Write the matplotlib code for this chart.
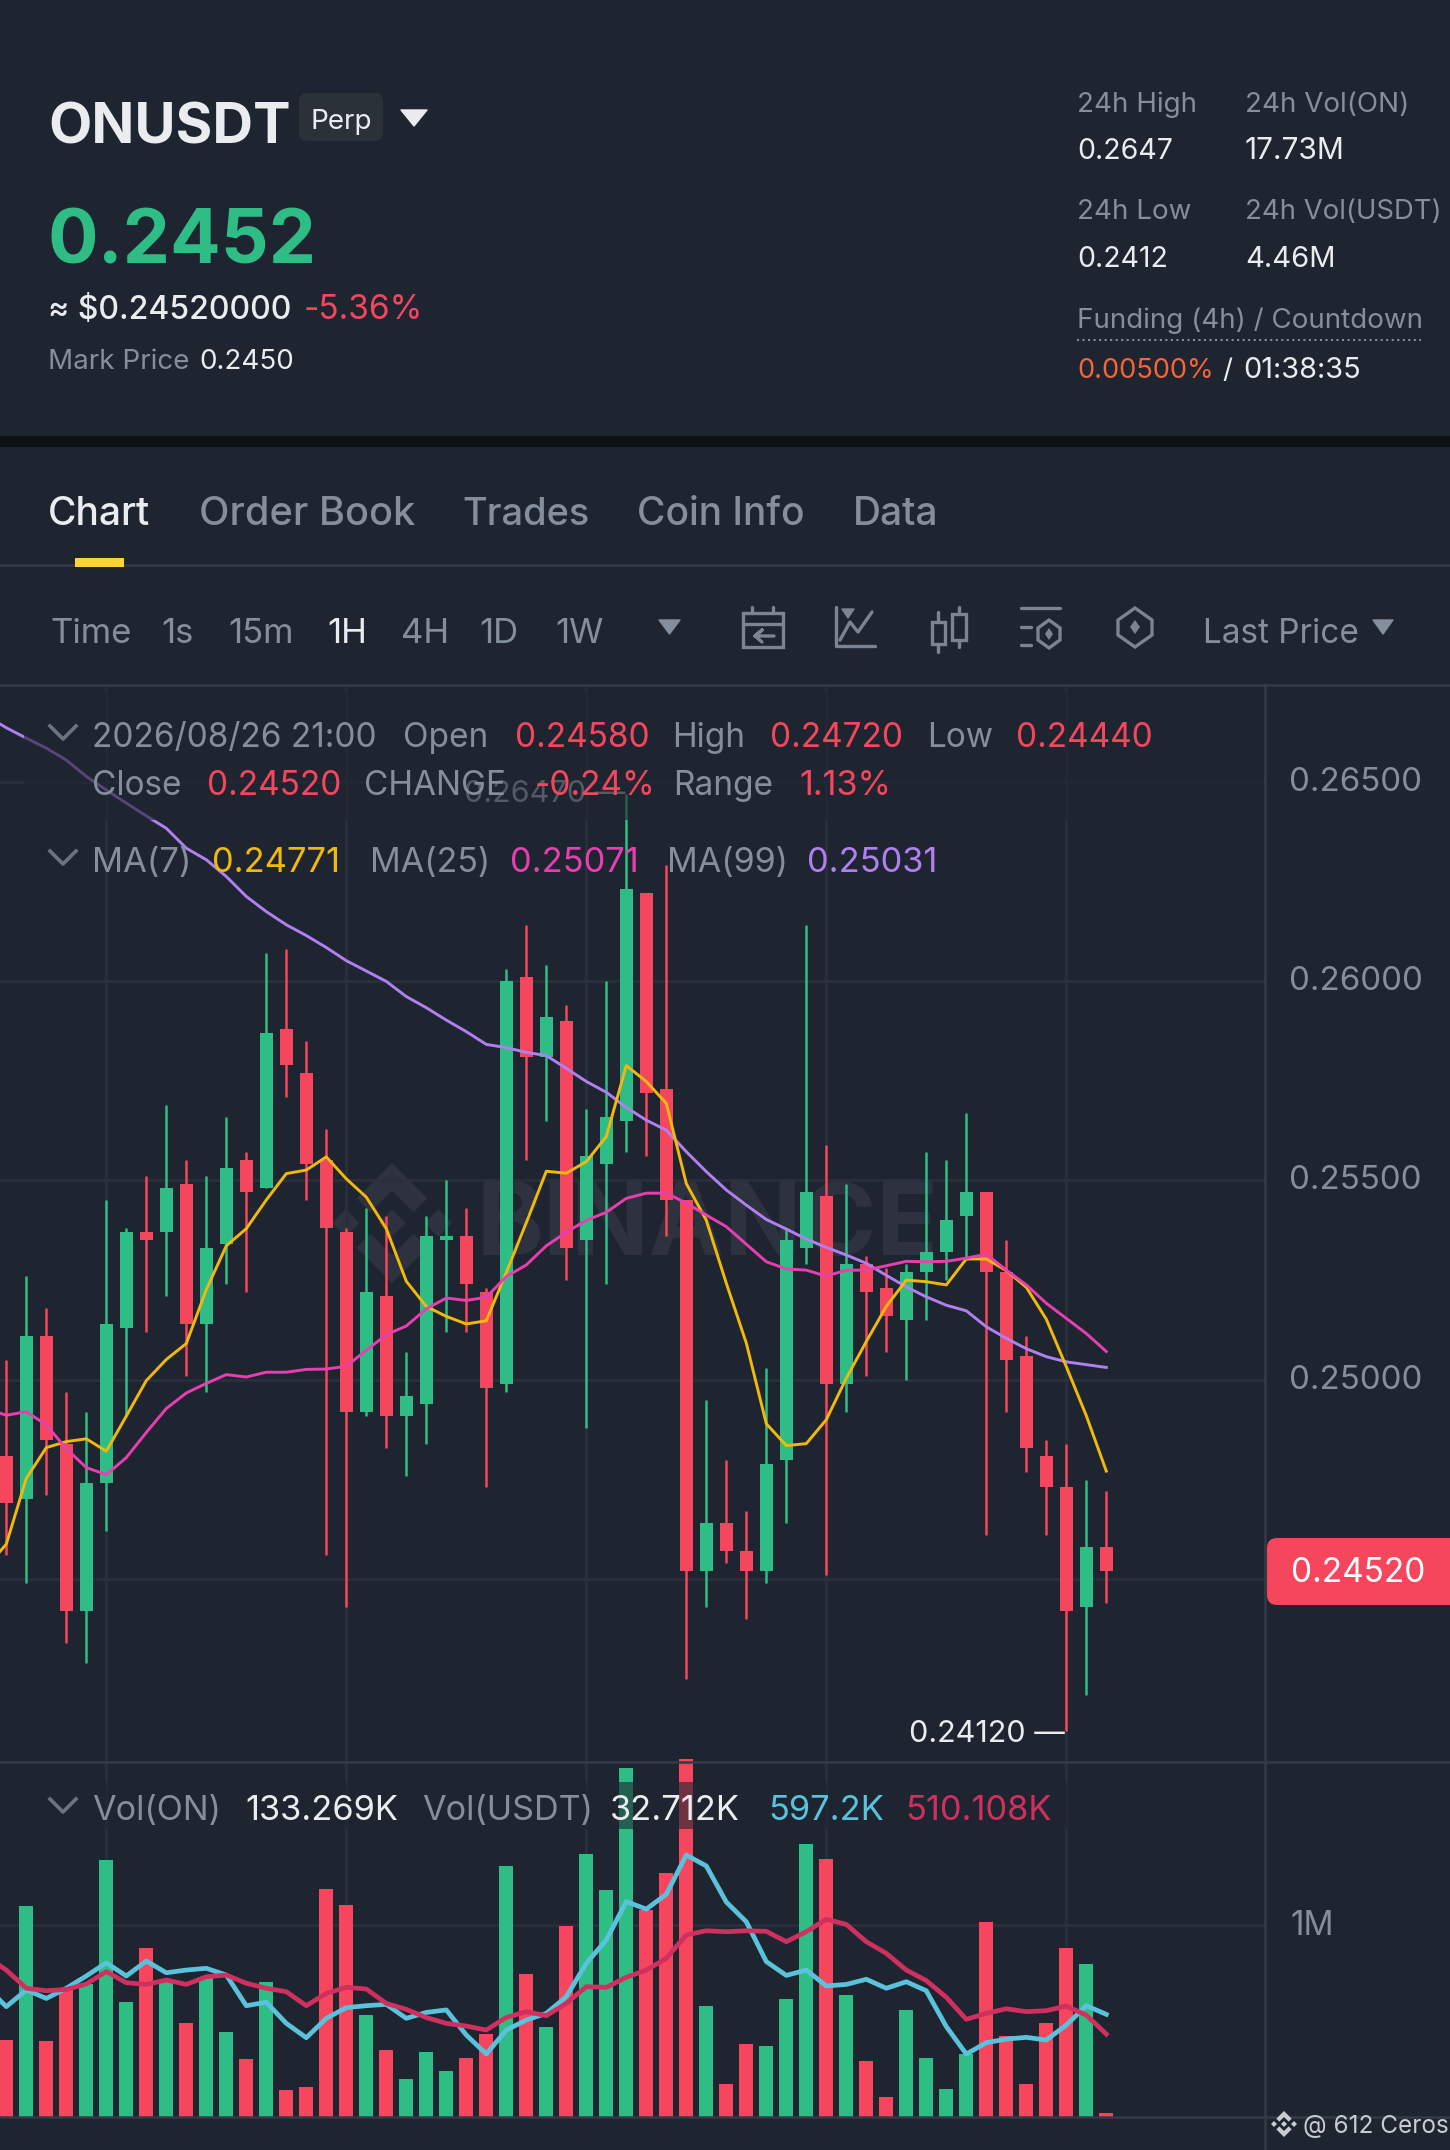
import numpy as np
import matplotlib
matplotlib.use('Agg')
import matplotlib.pyplot as plt
from matplotlib.patches import Rectangle, FancyBboxPatch, Polygon
from matplotlib.transforms import ScaledTranslation

plt.rcParams['font.family'] = ['Inter', 'DejaVu Sans']

# candles, 1H
opens = [.2481, .2470, .2511, .2484, .2442, .2474, .2513, .2537, .2537, .2549, .2514, .2534, .2555, .2548,
         .2588, .2577, .2555, .2537, .2492, .2521, .2491, .2494, .2535, .2536, .2522, .2499, .2601, .2581,
         .2590, .2535, .2554, .2565, .2622, .2573, .2545, .2452, .2464, .2457, .2452, .2480, .2533, .2546,
         .2499, .2529, .2523, .2515, .2527, .2532, .2541, .2547, .2527, .2506, .2481, .2473, .2443, .2458]
highs = [.2505, .2526, .2518, .2497, .2492, .2545, .2538, .2551, .2569, .2555, .2551, .2566, .2557, .2607,
         .2608, .2585, .2563, .2538, .2543, .2541, .2507, .2541, .2550, .2543, .2523, .2603, .2614, .2604,
         .2594, .2568, .2600, .2647, .2622, .2629, .2545, .2495, .2480, .2467, .2503, .2538, .2614, .2559,
         .2549, .2531, .2528, .2529, .2557, .2555, .2567, .2547, .2535, .2511, .2485, .2484, .2475, .2472]
lows = [.2456, .2449, .2471, .2434, .2429, .2462, .2491, .2512, .2521, .2501, .2497, .2524, .2522, .2548,
        .2571, .2545, .2456, .2443, .2491, .2483, .2476, .2484, .2512, .2512, .2473, .2497, .2555, .2565,
        .2525, .2488, .2524, .2557, .2556, .2536, .2425, .2443, .2454, .2440, .2449, .2464, .2529, .2451,
        .2492, .2501, .2507, .2500, .2515, .2525, .2530, .2461, .2492, .2477, .2461, .2412, .2421, .2444]
closes = [.2469, .2511, .2485, .2442, .2474, .2514, .2537, .2535, .2548, .2514, .2533, .2553, .2547, .2587,
          .2579, .2554, .2538, .2492, .2522, .2491, .2496, .2536, .2536, .2524, .2498, .2600, .2581, .2591,
          .2533, .2556, .2566, .2623, .2572, .2545, .2452, .2464, .2457, .2452, .2479, .2535, .2547, .2499,
          .2529, .2522, .2516, .2527, .2532, .2540, .2547, .2527, .2505, .2483, .2473, .2442, .2458, .2452]

# moving averages start one candle left of the visible range
ma7 = [.24530, .24588, .24753, .24830, .24845, .24852, .24821, .24909, .24998, .25051, .25091, .25226, .25336, .25379,
       .25451, .25517, .25526, .25559, .25504, .25458, .25379, .25247, .25184, .25159, .25140, .25148, .25269, .25394,
       .25523, .25518, .25547, .25610, .25788, .25748, .25693, .25492, .25400, .25242, .25092, .24890, .24835, .24840,
       .24900, .25004, .25096, .25184, .25250, .25246, .25238, .25303, .25303, .25274, .25232, .25152, .25033, .24910, .24771]
ma25 = [.24928, .24911, .24920, .24887, .24827, .24780, .24762, .24805, .24868, .24928, .24967, .24991, .25013, .25007,
        .25019, .25019, .25026, .25027, .25034, .25074, .25113, .25135, .25178, .25205, .25199, .25207, .25259, .25288,
        .25336, .25370, .25400, .25420, .25455, .25468, .25468, .25443, .25413, .25384, .25340, .25296, .25278, .25275,
        .25260, .25275, .25275, .25286, .25297, .25296, .25297, .25305, .25315, .25275, .25238, .25192, .25154, .25116, .25071]
ma99 = [.26665, .26635, .26609, .26584, .26554, .26513, .26479, .26446, .26414, .26383, .26333, .26304, .26262, .26212,
        .26174, .26141, .26114, .26084, .26051, .26025, .25999, .25961, .25933, .25902, .25873, .25841, .25833, .25821,
        .25813, .25781, .25748, .25721, .25683, .25651, .25626, .25572, .25522, .25476, .25438, .25402, .25378, .25353,
        .25332, .25313, .25292, .25262, .25233, .25208, .25187, .25173, .25133, .25104, .25078, .25058, .25045, .25038, .25031]

# volume in millions
volumes = [.400, 1.097, .395, .661, .690, 1.339, .597, .882, .704, .490, .722, .440, .301, .704,
           .139, .155, 1.188, 1.103, .530, .346, .197, .336, .238, .304, .431, 1.308, .743, .470,
           .993, 1.369, 1.184, 1.817, 1.078, 1.270, 1.866, .579, .169, .379, .369, .612, 1.423, 1.344,
           .633, .289, .104, .557, .304, .143, .325, 1.014, .421, .170, .487, .882, .797, .017]
vol_ma_a = [.678, .574, .661, .617, .670, .734, .803, .734, .812, .751, .765, .774, .739, .579,
            .597, .487, .412, .513, .569, .579, .586, .513, .544, .557, .426, .327, .452, .504,
            .539, .626, .800, .922, 1.122, 1.083, 1.160, 1.365, 1.308, 1.120, 1.017, .809, .737, .765,
            .682, .690, .717, .670, .704, .657, .470, .327, .386, .405, .414, .400, .478, .579, .534]
vol_ma_b = [.835, .765, .670, .657, .664, .692, .757, .699, .690, .713, .690, .730, .739, .696,
            .670, .652, .579, .643, .675, .666, .591, .560, .517, .487, .473, .452, .518, .548,
            .527, .591, .678, .675, .727, .765, .826, .948, .970, .965, .970, .967, .913, .965,
            1.030, 1.003, .913, .852, .765, .710, .623, .508, .539, .563, .548, .553, .577, .530, .431]

price_ticks = [0.265, 0.26, 0.255, 0.25, 0.245]
grid_candles = [5, 17, 29, 41, 53]

BG = '#1e2530'
GREEN = '#2ebd85'
RED = '#f6465d'
GRAY = '#848e9c'
WHITE = '#eaecef'
GRID = '#2a303b'
SEP = '#343b47'

W, H = 1450, 2150
fig = plt.figure(figsize=(W / 100, H / 100), dpi=100, facecolor=BG)


def px_axes(x0, y0, x1, y1, z):
    a = fig.add_axes([x0 / W, 1 - y1 / H, (x1 - x0) / W, (y1 - y0) / H], zorder=z)
    a.patch.set_alpha(0)
    return a


def raise_labels(a, px):
    # axis labels sit a little above their grid line
    for lab in a.get_yticklabels():
        lab.set_transform(lab.get_transform() + ScaledTranslation(0, px / 100, fig.dpi_scale_trans))


# background layer: watermark sits under the candles
bg = px_axes(0, 0, W, H, 0)
bg.set_xlim(0, W)
bg.set_ylim(H, 0)
bg.axis('off')


def binance_logo(a, cx, cy, r, color, z=1):
    top = [(0, -1), (.59, -.41), (.36, -.18), (0, -.54), (-.36, -.18), (-.59, -.41)]
    shapes = [top, [(x, -y) for x, y in top]]
    for dx in (-.77, 0, .77):
        shapes.append([(dx, -.23), (dx + .23, 0), (dx, .23), (dx - .23, 0)])
    for s in shapes:
        a.add_patch(Polygon([(cx + x * r, cy + y * r) for x, y in s], fc=color, ec='none', zorder=z))


binance_logo(bg, 392, 1223, 60, '#2d323e')
bg.text(476, 1255, 'BINANCE', fontsize=73, fontweight='bold', color='#2d323e', va='baseline')

# candles
left, right = 0, 1265
x0_px, step_px = 6.3, 20
px_per_price = 199.4 / 0.005
top_px, mid_px = 687, 1762
ax = px_axes(left, top_px, right, mid_px, 1)
ax.set_xlim(-x0_px / step_px, (right - x0_px) / step_px)
ax.set_ylim(0.26 - (mid_px - 981) / px_per_price, 0.26 + (981 - top_px) / px_per_price)

opens_a, closes_a = np.array(opens), np.array(closes)
xs = np.arange(len(opens))
cols = [GREEN if c >= o else RED for o, c in zip(opens, closes)]
ax.vlines(xs, lows, highs, colors=cols, lw=1.8, zorder=3)
ax.bar(xs, np.abs(closes_a - opens_a), bottom=np.minimum(opens_a, closes_a), width=0.67, color=cols, zorder=3)

xs_ma = np.arange(-1, len(opens))
ax.plot(xs_ma, ma99, color='#b07ff0', lw=2.1, zorder=4, solid_joinstyle='round')
ax.plot(xs_ma, ma7, color='#f0b90b', lw=2.1, zorder=5, solid_joinstyle='round')
ax.plot(xs_ma, ma25, color='#e83fb0', lw=2.1, zorder=6, solid_joinstyle='round')

ax.set_yticks(price_ticks)
ax.set_yticklabels(['%.5f' % p for p in price_ticks])
ax.set_xticks(grid_candles)
ax.tick_params(axis='x', length=0, labelbottom=False)
ax.yaxis.tick_right()
ax.tick_params(axis='y', length=0, pad=17, labelsize=23.8, labelcolor=GRAY)
ax.grid(True, color=GRID, lw=2)
ax.set_axisbelow(True)
for s in ax.spines.values():
    s.set_visible(False)
raise_labels(ax, 3)

# high and low markers
i_hi, i_lo = int(np.argmax(highs)), int(np.argmin(lows))
ax.annotate('%.5f' % highs[i_hi] + ' \u2014', (i_hi, highs[i_hi]), xytext=(-1, 0), textcoords='offset points',
            ha='right', va='center', fontsize=22, color='#a9b0bc', zorder=7)
ax.annotate('%.5f' % lows[i_lo] + ' \u2014', (i_lo, lows[i_lo]), xytext=(-1, -2), textcoords='offset points',
            ha='right', va='center', fontsize=22, color=WHITE, zorder=7)

# volume
bot_px = 2116.7
vol_top_px = 1755
px_per_m = 191.7
vx = px_axes(left, vol_top_px, right, bot_px, 1)
vx.set_xlim(ax.get_xlim())
vx.set_ylim(0, (bot_px - vol_top_px) / px_per_m)
vx.bar(xs, volumes, width=0.7, color=cols, zorder=3)
vx.plot(xs_ma, vol_ma_a, color='#5bc2dc', lw=3.4, zorder=4)
vx.plot(xs_ma, vol_ma_b, color='#d0305f', lw=3.4, zorder=5)
vx.set_yticks([1])
vx.set_yticklabels(['1M'])
vx.set_xticks(grid_candles)
vx.tick_params(axis='x', length=0, labelbottom=False)
vx.yaxis.tick_right()
vx.tick_params(axis='y', length=0, pad=18, labelsize=24, labelcolor=GRAY)
vx.grid(True, color=GRID, lw=2)
vx.set_axisbelow(True)
for s in vx.spines.values():
    s.set_visible(False)
raise_labels(vx, 2)

# ui layer in pixels
ui = px_axes(0, 0, W, H, 2)
ui.set_xlim(0, W)
ui.set_ylim(H, 0)
ui.axis('off')


def txt(x, y, s, size, color, **kw):
    ui.text(x, y, s, fontsize=size, color=color, va='baseline', zorder=10, **kw)


def tri(x0, x1, y0, y1, color):
    ui.add_patch(Polygon([(x0, y0), (x1, y0), ((x0 + x1) / 2, y1)], fc=color, ec=color, lw=1, joinstyle='round', zorder=10))


def chevron(y):
    ui.plot([50, 63, 76], [y, y + 13, y], color='#6b7480', lw=2.6, zorder=10)


# legend boxes dim what is under them
ui.add_patch(Rectangle((24, 690), 1241, 130, fc=BG, ec='none', alpha=.62, zorder=1))
ui.add_patch(Rectangle((24, 1782), 1241, 47, fc=BG, ec='none', alpha=.62, zorder=1))

# frame lines
ui.add_patch(Rectangle((0, 436), W, 11, fc='#0e1116', ec='none', zorder=2))
ui.plot([0, W], [565, 565], color=SEP, lw=1.8, zorder=2)
ui.plot([0, W], [685, 685], color=SEP, lw=1.8, zorder=2)
ui.plot([0, W], [1762, 1762], color=SEP, lw=1.8, zorder=2)
ui.plot([0, W], [2117, 2117], color=SEP, lw=1.8, zorder=2)
ui.plot([1265, 1265], [685, H], color=SEP, lw=1.8, zorder=2)
ui.add_patch(Rectangle((75, 558), 49, 9, fc='#fcd535', ec='none', zorder=3))

# header
txt(48, 144, 'ONUSDT', 40.5, WHITE, fontweight='bold')
ui.add_patch(FancyBboxPatch((299, 93), 84, 48, boxstyle='round,pad=0,rounding_size=8', fc='#2b3139', ec='none', zorder=3))
txt(341, 129, 'Perp', 20, WHITE, ha='center')
tri(401, 427, 110, 126, WHITE)
txt(48, 263, '0.2452', 54, GREEN, fontweight='bold')
txt(48, 319, '\u2248 $0.24520000', 23, WHITE, fontweight='medium')
txt(304, 319, '-5.36%', 24, RED)
txt(48, 369, 'Mark Price', 20, GRAY)
txt(199, 369, '0.2450', 20, WHITE)

txt(1077, 112, '24h High', 20, GRAY)
txt(1245, 112, '24h Vol(ON)', 20, GRAY)
txt(1077, 159, '0.2647', 20.5, WHITE)
txt(1245, 159, '17.73M', 21.5, WHITE)
txt(1077, 219, '24h Low', 20, GRAY)
txt(1245, 219, '24h Vol(USDT)', 19.8, GRAY)
txt(1077, 267, '0.2412', 20.5, WHITE)
txt(1245, 267, '4.46M', 21, WHITE)
txt(1077, 328, 'Funding (4h) / Countdown', 20, GRAY)
ui.plot([1077, 1421], [340, 340], color=GRAY, lw=1.5, ls=':', zorder=5)
txt(1077, 378, '0.00500%', 19.6, '#f6653a')
txt(1222, 378, '/', 20, WHITE)
txt(1243, 378, '01:38:35', 20.8, WHITE)

# tabs
txt(48, 525, 'Chart', 28, WHITE, fontweight='medium')
for x, s, sz in [(199, 'Order Book', 28.6), (462, 'Trades', 27.4), (637, 'Coin Info', 28), (853, 'Data', 28)]:
    txt(x, 525, s, sz, GRAY, fontweight='medium')

# toolbar
for x, s, c in [(50, 'Time', GRAY), (161, '1s', GRAY), (228, '15m', GRAY), (327, '1H', WHITE),
                (401, '4H', GRAY), (479, '1D', GRAY), (555, '1W', GRAY), (1203, 'Last Price', GRAY)]:
    txt(x, 643, s, 25 if s != 'Last Price' else 24, c)
tri(659, 680, 620, 634, GRAY)
tri(1373, 1393, 620, 634, GRAY)

ic = dict(color='#7b8492', lw=2.4, zorder=10, solid_capstyle='round', solid_joinstyle='round')
# calendar
ui.add_patch(Rectangle((743, 613), 40, 34, fc='none', ec='#7b8492', lw=2.4, zorder=10))
ui.plot([743, 783], [624, 624], **ic)
ui.plot([752, 752], [607, 613], **ic)
ui.plot([773, 773], [607, 613], **ic)
ui.plot([774, 755, 762, 755, 762], [636, 636, 630, 636, 642], **ic)
# line chart
ui.plot([836, 836, 875], [607, 646, 646], **ic)
ui.plot([840, 850, 858, 872], [640, 622, 632, 612], **ic)
tri(842, 854, 609, 618, '#7b8492')
# candles
ui.add_patch(Rectangle((932, 622), 13, 22, fc='none', ec='#7b8492', lw=2.4, zorder=10))
ui.add_patch(Rectangle((952, 614), 14, 26, fc='none', ec='#7b8492', lw=2.4, zorder=10))
ui.plot([938, 938], [612, 622], **ic)
ui.plot([938, 938], [644, 652], **ic)
ui.plot([959, 959], [607, 614], **ic)
ui.plot([959, 959], [640, 647], **ic)
# settings row
ui.plot([1021, 1060], [608, 608], **ic)
ui.plot([1021, 1031], [627, 627], **ic)
ui.plot([1021, 1031], [645, 645], **ic)
ui.add_patch(Polygon([(1049, 620), (1060, 628), (1060, 640), (1049, 648), (1038, 640), (1038, 628)], fc='none', ec='#7b8492', lw=2.4, zorder=10))
ui.add_patch(Polygon([(1049, 628), (1053, 634), (1049, 640), (1045, 634)], fc='#7b8492', ec='none', zorder=10))
# hexagon
ui.add_patch(Polygon([(1135, 608), (1152, 620), (1152, 635), (1135, 647), (1118, 635), (1118, 620)], fc='none', ec='#7b8492', lw=2.4, zorder=10))
ui.add_patch(Polygon([(1135, 620), (1140, 627), (1135, 634), (1130, 627)], fc='#7b8492', ec='none', zorder=10))

# legend rows
chevron(726)
txt(92, 747, '2026/08/26 21:00', 24, GRAY)
txt(403, 747, 'Open', 24, GRAY)
txt(515, 747, '0.24580', 24, RED)
txt(672, 747, 'High', 24, GRAY)
txt(770, 747, '0.24720', 24, RED)
txt(927, 747, 'Low', 24, GRAY)
txt(1016, 747, '0.24440', 24, RED)
txt(92, 795, 'Close', 24, GRAY)
txt(207, 795, '0.24520', 24, RED)
txt(364, 795, 'CHANGE', 24, GRAY)
txt(535, 795, '-0.24%', 24, RED)
txt(673, 795, 'Range', 24, GRAY)
txt(799, 795, '1.13%', 24.5, RED)
chevron(851)
txt(92, 872, 'MA(7)', 24.8, GRAY)
txt(212, 872, '0.24771', 24.8, '#f0b90b')
txt(370, 872, 'MA(25)', 24.5, GRAY)
txt(510, 872, '0.25071', 24.8, '#e83fb0')
txt(667, 872, 'MA(99)', 24.5, GRAY)
txt(807, 872, '0.25031', 24.8, '#b07ff0')
chevron(1799)
txt(92, 1820, 'Vol(ON)', 24.6, GRAY)
txt(245, 1820, '133.269K', 24.8, WHITE)
txt(422, 1820, 'Vol(USDT)', 24.6, GRAY)
txt(610, 1820, '32.712K', 24.8, WHITE)
txt(768, 1820, '597.2K', 24.8, '#5bc2dc')
txt(905, 1820, '510.108K', 24.8, '#d0305f')

# last price tag
ui.add_patch(FancyBboxPatch((1267, 1538), 200, 67, boxstyle='round,pad=0,rounding_size=10', fc=RED, ec='none', zorder=8, clip_on=True))
txt(1358, 1582, '0.24520', 24, 'white', ha='center')

# watermark of the poster
binance_logo(ui, 1284, 2124, 13, '#c8ccd3', z=10)
txt(1303, 2133, '@ 612 Ceros', 17.5, '#c8ccd3')

fig.savefig('out.png', dpi=100, facecolor=BG)
